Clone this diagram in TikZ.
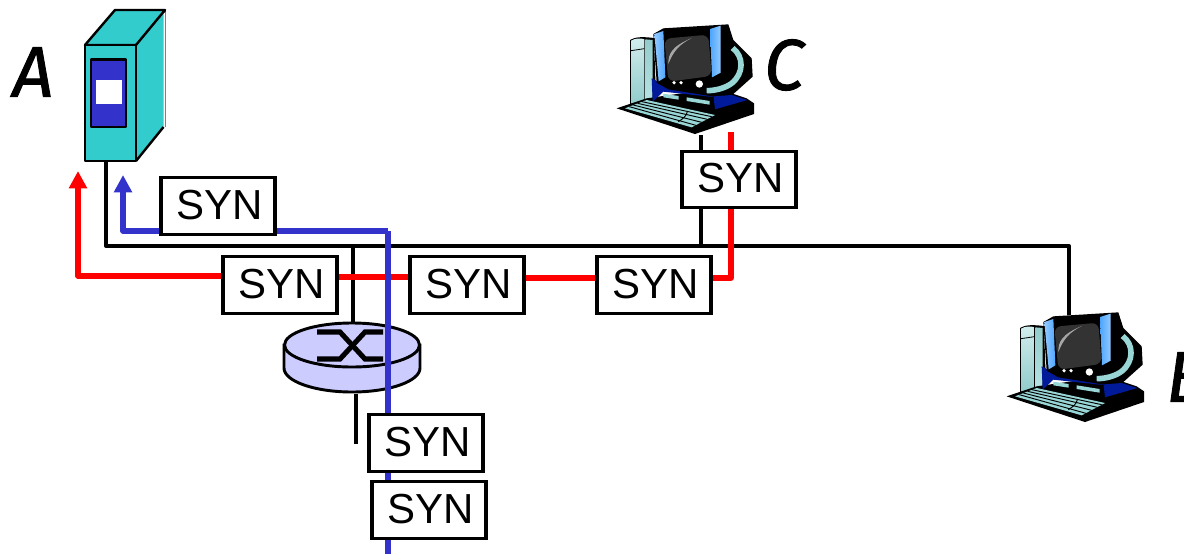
\documentclass[tikz,border=0pt]{standalone}
\usepackage{fontspec}
\setmainfont{Liberation Sans}
\newfontfamily\handfont[FakeBold=1.2]{Fira Sans}
\usetikzlibrary{arrows.meta,shapes.geometric}
\definecolor{teal}{HTML}{33CCCC}
\definecolor{synblue}{HTML}{3333CC}
\definecolor{routerfill}{HTML}{CCCCFF}
\definecolor{pcteal}{HTML}{99D6D6}
\definecolor{pcblue}{HTML}{4DA6FF}
\definecolor{pcnavy}{HTML}{001A99}
\definecolor{pcgray}{HTML}{333333}
\tikzset{
  syn/.style={draw=black,fill=white,line width=2.3pt,minimum width=85.5pt,minimum height=42.5pt,inner sep=0pt,text depth=2.5pt,font=\fontsize{31.5}{33}\selectfont,execute at begin node=\hspace*{2pt}},
  wire/.style={draw=black,line width=2.9pt},
  redpath/.style={draw=red,line width=3.8pt},
  bluepath/.style={draw=synblue,line width=4.2pt},
  tip/.style={-{Triangle[length=13pt,width=13pt]}},
  hand/.style={font=\handfont\itshape\fontsize{54}{56}\selectfont,inner sep=0pt},
  pc/.pic={
    \begin{scope}[x=.25pt,y=-.25pt,line join=round]
      % tower
      \fill[black] (90,60) .. controls (105,50) and (130,50) .. (162,54) -- (168,240) -- (90,258) -- cycle;
      \shade[top color=pcteal!45,bottom color=pcteal!95!black] (93,62) .. controls (105,54) and (125,54) .. (133,58) -- (133,245) -- (93,251) -- cycle;
      \shade[top color=pcteal!95!black,bottom color=pcteal!70] (136,58) -- (158,60) -- (158,238) -- (136,243) -- cycle;
      \draw[black,line width=.6pt] (93,92) -- (133,86);
      % desk base
      \fill[black] (50,265) -- (140,235) -- (350,205) -- (440,235) -- (462,250) -- (462,282) -- (285,342) -- cycle;
      \fill[pcnavy] (155,175) -- (215,205) -- (340,225) -- (345,268) -- (442,240) -- (395,225) -- (330,230) -- (190,215) -- (158,245) -- cycle;
      % monitor body
      \fill[black] (160,42) -- (190,25) -- (385,13) -- (400,60) -- (455,115) -- (458,170) -- (400,222) -- (330,228) -- (205,208) -- (170,188) -- cycle;
      \draw[pcteal,line width=4.2pt] (398,84) .. controls (432,110) and (432,160) .. (395,190) .. controls (375,205) and (345,212) .. (320,212);
      \shade[left color=pcblue!60,right color=pcblue] (163,42) -- (190,33) -- (196,172) -- (176,184) -- cycle;
      \shade[left color=pcblue,right color=pcblue!60] (330,27) -- (362,17) -- (362,158) -- (336,172) -- cycle;
      % screen
      \fill[pcgray,rounded corners=5pt] (193,56) -- (325,44) -- (335,168) -- (205,185) -- cycle;
      \fill[gray!70] (205,132) .. controls (205,100) and (215,80) .. (275,54) .. controls (235,75) and (220,95) .. (205,132) -- cycle;
      % buttons
      \fill[white] (222,188) circle[radius=5.5] (243,188) circle[radius=5.5] (298,192) circle[radius=11];
      % drive slots
      \fill[pcteal] (190,221) -- (236,228) -- (236,239) -- (190,232) -- cycle;
      \fill[pcteal] (260,232) -- (329,243) -- (329,254) -- (260,243) -- cycle;
      % keyboard
      \fill[pcteal] (75,265) -- (140,240) -- (345,285) -- (275,322) -- cycle;
      \draw[black,line width=.7pt] (88,260) -- (288,316) (100,255) -- (305,307) (113,250) -- (322,298) (126,245) -- (335,290);
      \draw[black,line width=.7pt] (235,305) .. controls (250,295) and (258,290) .. (262,275);
    \end{scope}
  }
}
\begin{document}
\begin{tikzpicture}[x=.75pt,y=-.75pt]
\useasboundingbox (0,0) rectangle (1184,554);
% anchors
\coordinate (pcCfoot) at (701,135);
\coordinate (pcCred) at (731,132);
\coordinate (pcBfoot) at (1069,315);
\coordinate (wireA) at (106,162);
\coordinate (redTip) at (78,171);
\coordinate (blueTip) at (123,175);
\coordinate (blueEnd) at (388,554);
\coordinate (routerNorth) at (353,322);
\coordinate (routerSouth) at (356,394);
\coordinate (routerStub) at (356,444);
\coordinate (busA) at (106,246);
\coordinate (busB) at (1069,246);
\coordinate (busRouter) at (353,246);
\coordinate (busC) at (701,246);
\coordinate (redCorner) at (731,278);
\coordinate (blueCorner) at (388,231);

% black network
\draw[wire,line join=round] (wireA) -- (busA) -- (busB) -- (pcBfoot);
\draw[wire] (pcCfoot) -- (busC);
\draw[wire] (busRouter) -- (routerNorth);
\draw[wire] (routerSouth) -- (routerStub);

% router
\begin{scope}[line width=2.2pt]
  \draw[fill=routerfill] (284,345) -- (284,368) arc[start angle=180,end angle=360,x radius=68,y radius=-24] -- (420,345) -- cycle;
  \draw[fill=routerfill] (352,345) ellipse[x radius=67.5,y radius=22];
\end{scope}
\draw[line width=3.8pt,line join=miter] (317,332) -- (340,332) -- (365,359) -- (383,359);
\draw[line width=3.8pt,line join=miter] (317,359) -- (340,359) -- (365,332) -- (383,332);

% server A
\begin{scope}[line width=1.8pt,line join=round]
  \draw[line width=.4pt,draw=gray] (165,10) -- (165,127);
  \fill[teal] (136,45) -- (163.5,12) -- (163.5,127) -- (136,161) -- cycle;
  \draw[fill=teal] (85,45) -- (115,10) -- (165,10) -- (136,45) -- cycle;
  \draw (165,10) -- (163.5,12) (163.5,127) -- (136,161);
  \draw[fill=teal] (85,45) rectangle (136,161);
  \draw[fill=synblue] (91,59.5) rectangle (126,127);
  \fill[white] (96,80) rectangle (122,104);
\end{scope}

% computers
\pic at (600,20) {pc};
\pic at (990,308) {pc};

% paths
\draw[redpath,tip,line join=round] (222,276) -- (78,276) -- (redTip);
\draw[redpath] (338,277) -- (409,277);
\draw[redpath] (525,278) -- (596,278);
\draw[redpath,line join=round] (712,278) -- (redCorner) -- (pcCred);
\draw[bluepath,tip,line join=round] (blueCorner) -- (123,231) -- (blueTip);
\draw[bluepath,line join=round] (blueCorner) -- (blueEnd);

% SYN boxes
\node[syn] (syn1) at (218,206) {SYN};
\node[syn] (syn2) at (280,285) {SYN};
\node[syn] (syn3) at (467,285) {SYN};
\node[syn] (syn4) at (654,285) {SYN};
\node[syn] (syn5) at (739,179.5) {SYN};
\node[syn] (syn6) at (426,443) {SYN};
\node[syn] (syn7) at (429,510) {SYN};

% labels
\node[hand] (labA) at (33,72) {A};
\node[hand] (labC) at (784,65) {C};
\node[hand,anchor=west] (labB) at (1166,377) {B};
\end{tikzpicture}
\end{document}
